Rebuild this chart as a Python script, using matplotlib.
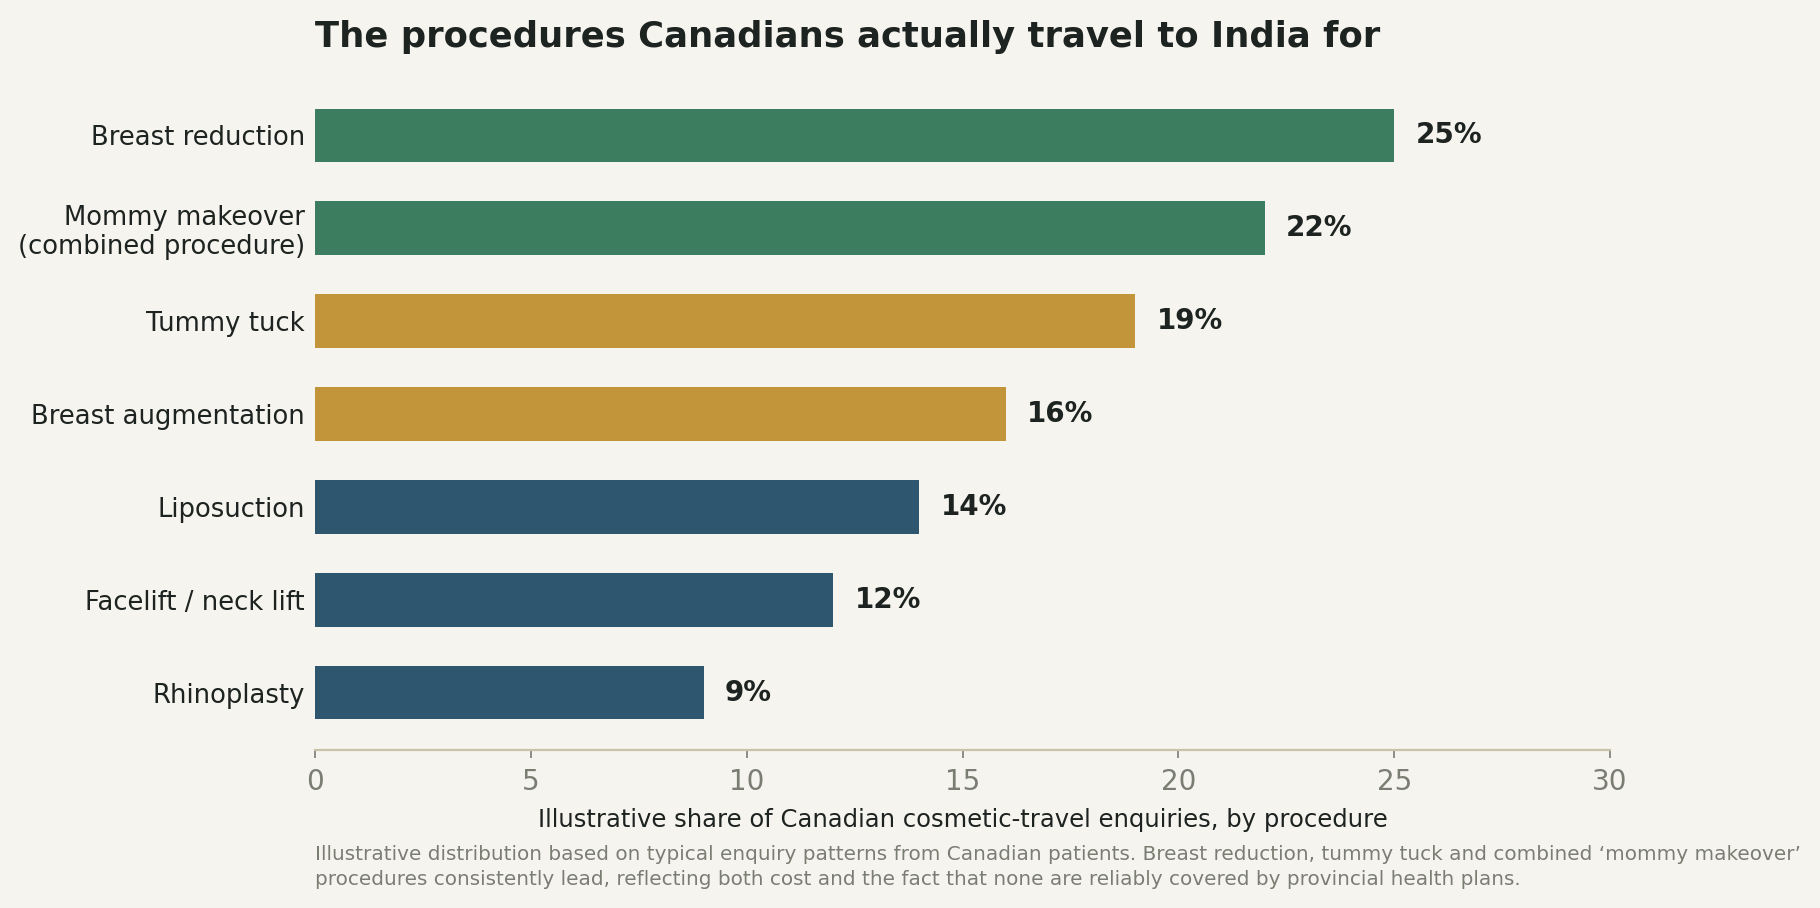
import matplotlib
matplotlib.use("Agg")
import matplotlib.pyplot as plt
import numpy as np

# procedures, top to bottom
procedures = ["Breast reduction", "Mommy makeover\n(combined procedure)", "Tummy tuck",
              "Breast augmentation", "Liposuction", "Facelift / neck lift", "Rhinoplasty"]
shares = [25, 22, 19, 16, 14, 12, 9]
bar_colors = ["#3c7c5f", "#3c7c5f", "#c2953a", "#c2953a", "#2e566f", "#2e566f", "#2e566f"]
xticks = [0, 5, 10, 15, 20, 25, 30]

title = "The procedures Canadians actually travel to India for"
xlabel = "Illustrative share of Canadian cosmetic-travel enquiries, by procedure"
note = ("Illustrative distribution based on typical enquiry patterns from Canadian patients. "
        "Breast reduction, tummy tuck and combined \u2018mommy makeover\u2019\n"
        "procedures consistently lead, reflecting both cost and the fact that none are "
        "reliably covered by provincial health plans.")

bg = "#f6f4ee"
dark = "#1d2320"
grey = "#7a7d72"

fig = plt.figure(figsize=(9.1, 4.54), dpi=200, facecolor=bg)
ax = fig.add_axes([0.1731, 0.174, 0.7115, 0.7401], facecolor=bg)

ypos = np.arange(len(procedures))
ax.barh(ypos, shares, height=0.58, color=bar_colors)
ax.invert_yaxis()

for y, v in zip(ypos, shares):
    ax.text(v + 0.5, y, f"{v}%", va="center", ha="left", fontsize=10,
            fontweight="bold", color=dark)

ax.set_xlim(0, 30)
ax.set_xticks(xticks)
ax.set_yticks(ypos)
ax.set_yticklabels(procedures, linespacing=1.15)
ax.tick_params(axis="y", length=0, pad=3.6, labelsize=9.3, labelcolor=dark)
ax.tick_params(axis="x", length=3, width=0.6, color=grey, pad=3.5,
               labelsize=10, labelcolor=grey)

for s in ["left", "top", "right"]:
    ax.spines[s].set_visible(False)
ax.spines["bottom"].set_color("#c8c2aa")
ax.spines["bottom"].set_linewidth(0.8)

fig.text(0.1731, 1 - 46.7 / 908, title, fontsize=12.75, fontweight="bold",
         color=dark, ha="left", va="baseline")
fig.text(0.5289, 1 - 827 / 908, xlabel, fontsize=8.75, color=dark,
         ha="center", va="baseline")
fig.text(0.1731, 1 - 884.7 / 908, note, fontsize=7.2, color=grey,
         ha="left", va="baseline", linespacing=1.4)

fig.savefig("out.png", dpi=200, facecolor=bg)
